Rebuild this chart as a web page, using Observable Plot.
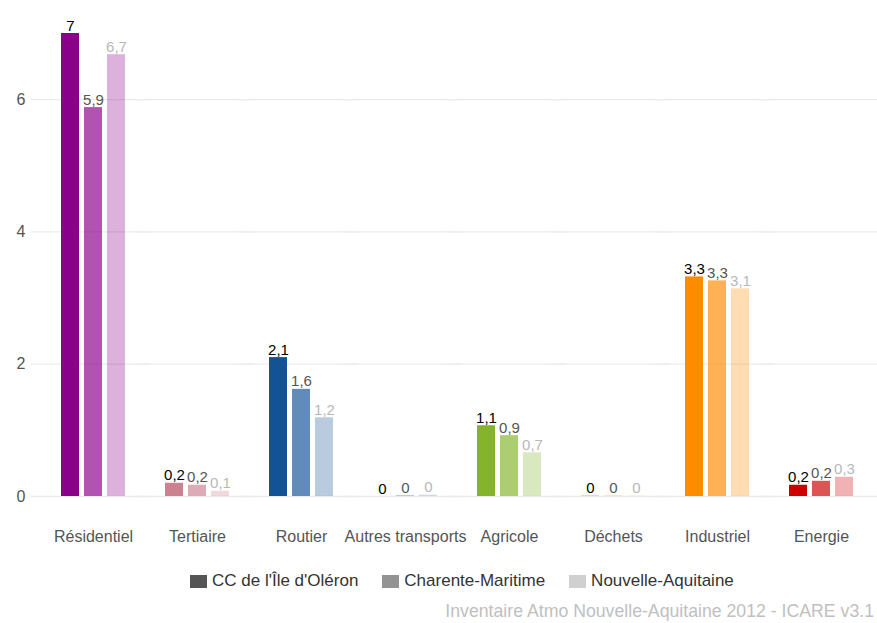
<!DOCTYPE html>
<html>
<head>
<meta charset="utf-8">
<script src="https://cdn.jsdelivr.net/npm/d3@7"></script>
<script src="https://cdn.jsdelivr.net/npm/@observablehq/plot@0.6"></script>
<style>
  html, body { margin: 0; padding: 0; background: #fff; overflow: hidden; }
  body { width: 877px; height: 623px; position: relative; font-family: "Liberation Sans", Arial, sans-serif; }
  #chart { position: absolute; left: 0; top: 0; }
  #legend { position: absolute; left: 190px; top: 571px; display: flex; align-items: center; font-size: 17px; color: #333; white-space: nowrap; }
  #legend .item { display: flex; align-items: center; margin-right: 24px; }
  #legend .sw { width: 17px; height: 13px; margin-right: 5px; }
  #caption { position: absolute; right: 3px; top: 601px; font-size: 17.7px; color: #c0c0c0; white-space: nowrap; }
</style>
</head>
<body>
<div id="chart"></div>
<div id="legend"></div>
<div id="caption"></div>
<script>
// ---- data ----
const categories = ["Résidentiel", "Tertiaire", "Routier", "Autres transports", "Agricole", "Déchets", "Industriel", "Energie"];
const seriesNames = ["CC de l'Île d'Oléron", "Charente-Maritime", "Nouvelle-Aquitaine"];
const valuesOleron = [7.0, 0.2, 2.1, 0.0, 1.07, 0.01, 3.32, 0.17];
const valuesCharente = [5.88, 0.17, 1.62, 0.01, 0.92, 0.01, 3.26, 0.23];
const valuesAquitaine = [6.68, 0.08, 1.19, 0.02, 0.66, 0.01, 3.14, 0.29];
const yTicks = [0, 2, 4, 6];
const captionText = "Inventaire Atmo Nouvelle-Aquitaine 2012 - ICARE v3.1";

// ---- styles ----
const categoryColors = ["#8b008b", "#cd8190", "#135295", "#5b8fc4", "#85b42c", "#f7d33a", "#ff8c00", "#cc0000"];
const seriesOpacity = [1, 0.67, 0.3];
const labelColors = ["#000000", "#555555", "#b8b8b8"];
const legendColors = ["#555555", "#939393", "#d0d0d0"];

const seriesValues = [valuesOleron, valuesCharente, valuesAquitaine];
const rows = [];
categories.forEach((c, i) => {
  seriesNames.forEach((s, j) => {
    rows.push({category: c, series: s, value: seriesValues[j][i], ci: i, sj: j});
  });
});
const fmt = v => (Math.round(v * 10) / 10).toFixed(1).replace(/\.0$/, "").replace(".", ",");

const plot = Plot.plot({
  width: 877,
  height: 560,
  marginLeft: 31,
  marginRight: 0,
  marginTop: 33,
  marginBottom: 64,
  style: {fontFamily: "'Liberation Sans', Arial, sans-serif", fontSize: "16px", color: "#555"},
  fx: {domain: categories, padding: 0, insetLeft: 10, insetRight: 4, label: null},
  x: {domain: seriesNames, paddingInner: 0.2, paddingOuter: 0.77, axis: null},
  y: {domain: [0, 7], label: null},
  color: {type: "identity"},
  opacity: {type: "identity"},
  marks: [
    Plot.ruleY(yTicks, {stroke: "#ebebeb", strokeWidth: 1.3, insetLeft: -10, insetRight: -4}),
    Plot.axisY(yTicks, {tickSize: 0, tickPadding: 16, fontSize: 16, fill: "#555", label: null, tickFormat: d => String(d)}),
    Plot.axisFx({anchor: "bottom", tickSize: 0, tickPadding: 34, fontSize: 16, fill: "#555", label: null}),
    Plot.barY(rows, {
      fx: "category", x: "series", y: "value",
      fill: d => categoryColors[d.ci],
      fillOpacity: d => seriesOpacity[d.sj]
    }),
    Plot.text(rows, {
      fx: "category", x: "series", y: "value",
      text: d => fmt(d.value),
      fill: d => labelColors[d.sj],
      lineAnchor: "bottom", dy: -3, fontSize: 15
    })
  ]
});
document.getElementById("chart").appendChild(plot);

const legend = document.getElementById("legend");
seriesNames.forEach((s, j) => {
  const item = document.createElement("div");
  item.className = "item";
  const sw = document.createElement("div");
  sw.className = "sw";
  sw.style.background = legendColors[j];
  const t = document.createElement("span");
  t.textContent = s;
  item.appendChild(sw);
  item.appendChild(t);
  legend.appendChild(item);
});
document.getElementById("caption").textContent = captionText;
</script>
</body>
</html>
